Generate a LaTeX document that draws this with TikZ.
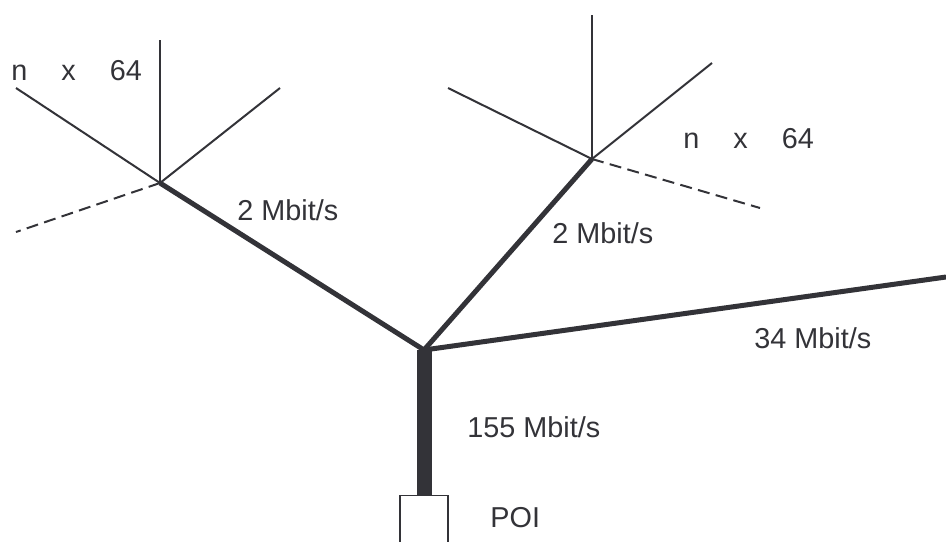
\documentclass[tikz,border=0pt]{standalone}
\usepackage{fontspec}
\setmainfont{Liberation Sans}
\definecolor{ink}{RGB}{51,51,56}
\begin{document}
\begin{tikzpicture}[x=0.5pt,y=-0.5pt,
  drop/.style={draw=ink,line width=1pt},
  spare/.style={draw=ink,line width=1pt,dash pattern=on 6pt off 3.2pt},
  trunk/.style={draw=ink,line width=2.5pt,line join=round},
  backbone/.style={draw=ink,line width=7.5pt},
  rate/.style={text=ink,font=\fontsize{14.4}{17}\selectfont,anchor=base west,inner sep=0pt},
]
\useasboundingbox (0,0) rectangle (946,541);

% junctions
\coordinate (C) at (424,350);
\coordinate (L) at (160,183);
\coordinate (R) at (592,159);
% subscriber drops of the left node
\coordinate (L1) at (160,40);
\coordinate (L2) at (16,88);
\coordinate (L3) at (280,88);
\coordinate (L4) at (16,232);
% subscriber drops of the right node
\coordinate (R1) at (592,15);
\coordinate (R2) at (448,88);
\coordinate (R3) at (712,63);
\coordinate (R4) at (760,208);
% far end of the 34 Mbit/s link
\coordinate (E) at (946,277);

% point of interconnection
\node[draw=ink,line width=0.6pt,minimum width=24pt,minimum height=40pt,
      anchor=north,inner sep=0pt] (poi) at (424,495) {};

% backbone and trunks
\draw[backbone] (C) -- (poi.north);
\draw[trunk] (L) -- (C) -- (R);
\draw[trunk] (C) -- (E);

% drops
\draw[drop] (L) -- (L1);
\draw[drop] (L) -- (L2);
\draw[drop] (L) -- (L3);
\draw[spare] (L) -- (L4);
\draw[drop] (R) -- (R1);
\draw[drop] (R) -- (R2);
\draw[drop] (R) -- (R3);
\draw[spare] (R) -- (R4);

% labels
\node[rate] (lnx) at (11,80) {n\hspace{17pt}x\hspace{17pt}64};
\node[rate] (rnx) at (683,148) {n\hspace{17pt}x\hspace{17pt}64};
\node[rate] (l2) at (237,220) {2 Mbit/s};
\node[rate] (r2) at (552,243) {2 Mbit/s};
\node[rate] (r34) at (754,348) {34 Mbit/s};
\node[rate] (r155) at (467,437) {155 Mbit/s};
\node[rate] (poitext) at (490,527) {POI};
\end{tikzpicture}
\end{document}
